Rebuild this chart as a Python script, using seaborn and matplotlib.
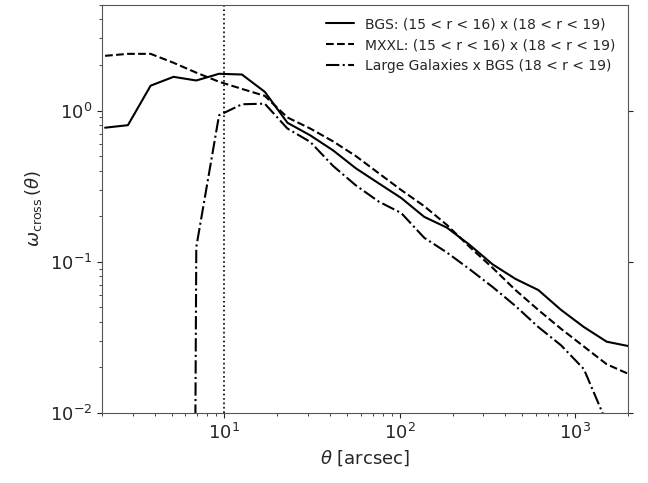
import matplotlib
matplotlib.use('Agg')
import matplotlib.pyplot as plt
import numpy as np
import pandas as pd
import seaborn as sns

theta = [2.09, 2.82, 3.80, 5.13, 6.92, 9.33, 12.6, 17.0, 22.9, 30.9, 41.7, 56.2,
         75.9, 102, 138, 186, 251, 339, 457, 617, 832, 1122, 1514, 2042]
bgs = [0.77, 0.80, 1.46, 1.67, 1.58, 1.75, 1.73, 1.33, 0.83, 0.685, 0.545, 0.415,
       0.33, 0.264, 0.198, 0.168, 0.129, 0.096, 0.077, 0.065, 0.048, 0.037, 0.0296, 0.0276]
mxxl = [2.30, 2.37, 2.37, 2.07, 1.78, 1.55, 1.39, 1.25, 0.90, 0.76, 0.625, 0.50,
        0.385, 0.298, 0.233, 0.175, 0.125, 0.091, 0.065, 0.048, 0.036, 0.0275, 0.021, 0.018]
large = [np.nan, np.nan, np.nan, 1e-30, 0.125, 0.93, 1.10, 1.11, 0.76, 0.62, 0.43, 0.32,
         0.25, 0.21, 0.144, 0.115, 0.089, 0.068, 0.051, 0.037, 0.028, 0.0195, 0.0086, np.nan]
labels = ['BGS: (15 < r < 16) x (18 < r < 19)',
          'MXXL: (15 < r < 16) x (18 < r < 19)',
          'Large Galaxies x BGS (18 < r < 19)']

sns.set_style('ticks')
plt.rcParams['font.family'] = ['DejaVu Sans']

fig, ax = plt.subplots(figsize=(6.48, 4.83), dpi=100)
fig.subplots_adjust(left=0.157, right=0.969, top=0.99, bottom=0.145)

for vals, lab, ls in zip([bgs, mxxl, large], labels, ['-', '--', '-.']):
    df = pd.DataFrame({'theta': theta, 'w': vals}).dropna()
    sns.lineplot(data=df, x='theta', y='w', ax=ax, color='black', linestyle=ls,
                 linewidth=1.5, label=lab)

ax.axvline(10, color='black', linestyle=':', linewidth=1.2)
ax.set_xscale('log')
ax.set_yscale('log')
ax.set_xlim(2, 2000)
ax.set_ylim(1e-2, 5)
ax.yaxis.set_ticks_position('both')
ax.tick_params(which='minor', right=False)
ax.tick_params(labelsize=13)
ax.set_xlabel(r'$\theta$ [arcsec]', fontsize=13)
ax.set_ylabel(r'$\omega_{\rm cross}\,(\theta)$', fontsize=13)
ax.legend(loc='upper right', frameon=False, fontsize=10)
for s in ax.spines.values():
    s.set_color('#555555')

fig.savefig('out.png', dpi=100)
